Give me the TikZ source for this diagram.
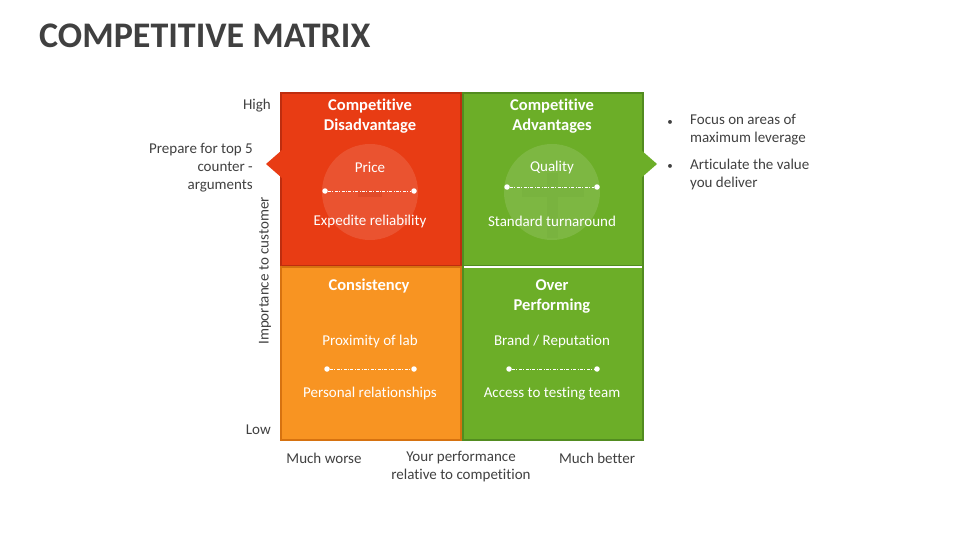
\documentclass[tikz,border=0pt]{standalone}
\usepackage{fontspec}
\setmainfont{Carlito}[RawFeature={-liga;-clig;-calt}]
\usepackage{tikz}
\usetikzlibrary{positioning}
\definecolor{disred}{RGB}{232,60,20}
\definecolor{disline}{RGB}{190,45,15}
\definecolor{advgreen}{RGB}{108,174,40}
\definecolor{advline}{RGB}{82,140,32}
\definecolor{conorange}{RGB}{248,148,34}
\definecolor{conline}{RGB}{214,114,16}
\definecolor{txtgrey}{RGB}{64,64,64}

\begin{document}
\begin{tikzpicture}[x=1pt, y=-1pt,
    quad/.style={rectangle, minimum width=180pt, minimum height=173pt,
        line width=2pt, inner sep=0pt},
    head/.style={font=\bfseries\fontsize{16.5}{20}\selectfont, text=white, align=center},
    item/.style={font=\fontsize{15}{17}\selectfont, text=white},
    side/.style={font=\fontsize{15}{18}\selectfont, text=txtgrey, inner sep=0pt},
    link/.style={white, line width=0.6pt, dash pattern=on 3pt off 1.5pt on 0.8pt off 1.5pt},
    dot/.style={circle, fill=white, inner sep=0pt, minimum size=5.5pt},
    halo/.style={circle, fill=white, fill opacity=0.12, minimum size=96pt}]
\useasboundingbox (0,0) rectangle (960,540);

% title
\node[font=\bfseries\fontsize{36}{40}\selectfont, text=txtgrey, anchor=west, inner sep=0pt]
    (title) at (39,36) {COMPETITIVE MATRIX};

% quadrants
\node[quad, fill=disred, draw=disline]     (dis) at (371,179.5) {};
\node[quad, fill=conorange, draw=conline]  (con) at (371,353.5) {};
\node[quad, fill=advgreen, draw=advline]   (adv) at (552.5,179.5) {};
\node[quad, fill=advgreen, draw=advline]   (ovr) at (552.5,353.5) {};
\draw[white, line width=2.5pt] ([xshift=2pt]adv.south west) -- ([xshift=-2pt]adv.south east);

% pointers
\coordinate (ltip) at (266,164);
\coordinate (rtip) at (657,164);
\fill[disred] (ltip) -- ++(16,-14) -- ++(0,28) -- cycle;
\fill[advgreen] (rtip) -- ++(-16,-14) -- ++(0,28) -- cycle;

% halos
\node[halo] (dishalo) at (370,192) {};
\node[halo] (advhalo) at (552,192) {};
\fill[disline, opacity=0.2] (358,191) rectangle (382,197);
\fill[advline, opacity=0.07] (522,186) rectangle (584,197);
\fill[advline, opacity=0.07] (547,173) rectangle (558,186);
\fill[advline, opacity=0.07] (547,197) rectangle (558,238);

% competitive disadvantage
\node[head] (dist) at (370,116.5) {Competitive\\Disadvantage};
\node[item] (price) at (370,167.5) {Price};
\node[dot] (da) at (325,191) {};
\node[dot] (db) at (414,191) {};
\draw[link] (da) -- (db);
\node[item] (expd) at (370,221.5) {Expedite reliability};

% competitive advantages
\node[head] (advt) at (552,116.5) {Competitive\\Advantages};
\node[item] (qual) at (552,167.5) {Quality};
\node[dot] (aa) at (507,187) {};
\node[dot] (ab) at (597,187) {};
\draw[link] (aa) -- (ab);
\node[item] (turn) at (552,221.5) {Standard turnaround};

% consistency
\node[head] (cont) at (369,286.5) {Consistency};
\node[item] (prox) at (370,341.5) {Proximity of lab};
\node[dot] (ca) at (327,369) {};
\node[dot] (cb) at (414,369) {};
\draw[link] (ca) -- (cb);
\node[item] (pers) at (370,393.5) {Personal relationships};

% over performing
\node[head] (ovrt) at (552,296.5) {Over\\Performing};
\node[item] (brand) at (552,341.5) {Brand / Reputation};
\node[dot] (oa) at (509,369) {};
\node[dot] (ob) at (597,369) {};
\draw[link] (oa) -- (ob);
\node[item] (team) at (552,393.5) {Access to testing team};

% axes
\node[side, anchor=east] (high) at (271,105.5) {High};
\node[side, anchor=east] (low)  at (271,429.5) {Low};
\node[side, rotate=90] (imp) at (265,271) {Importance to customer};
\node[side] (worse)  at (324,458.5) {Much worse};
\node[side, align=center] (perf) at (461,467) {Your performance\\relative to competition};
\node[side] (better) at (597,458.5) {Much better};

% side notes
\node[side, anchor=east, align=right] (prep) at (253,167.5) {Prepare for top 5\\counter -\\arguments};
\node[side, font=\fontsize{11}{12}\selectfont] (b1) at (670,123) {\textbullet};
\node[side, anchor=north west, align=left] (focus) at (690,114.5) {Focus on areas of\\maximum leverage};
\node[side, font=\fontsize{11}{12}\selectfont] (b2) at (670,167) {\textbullet};
\node[side, anchor=north west, align=left] (artic) at (690,158.5) {Articulate the value\\you deliver};
\end{tikzpicture}
\end{document}
